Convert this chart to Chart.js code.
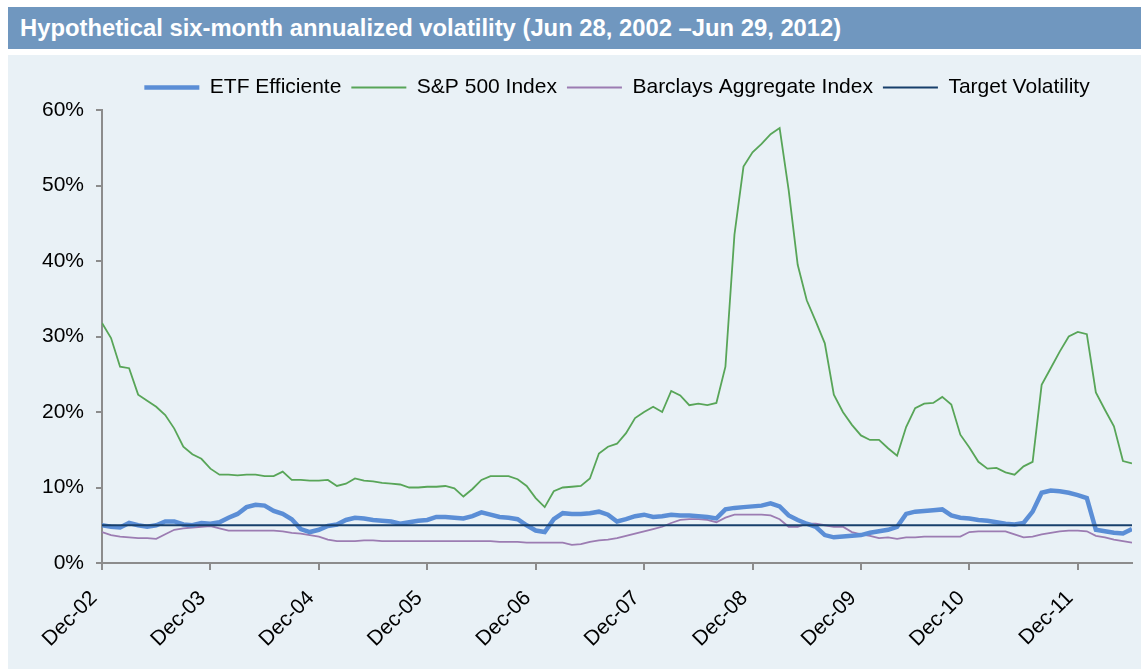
<!DOCTYPE html>
<html>
<head>
<meta charset="utf-8">
<script src="https://cdn.jsdelivr.net/npm/chart.js@4.4.0/dist/chart.umd.min.js"></script>
<style>
  body { margin: 0; background: #fff; }
  #title {
    position: absolute; left: 8px; top: 7px; width: 1121px; height: 42px;
    padding-left: 12px; background: #7097bf; color: #fff;
    font: bold 23.8px "Liberation Sans", Arial, sans-serif; line-height: 42px;
  }
  #box { position: absolute; left: 8px; top: 55px; width: 1133px; height: 614px; background: #e9f1f6; }
</style>
</head>
<body>
<div id="title">Hypothetical six-month annualized volatility (Jun 28, 2002 –Jun 29, 2012)</div>
<div id="box"><canvas id="chart" width="1133" height="614"></canvas></div>
<script>
// x = months since Dec-02 (monthly, Dec-02 .. Jun-12)
var tickLabels = ['Dec-02','Dec-03','Dec-04','Dec-05','Dec-06','Dec-07','Dec-08','Dec-09','Dec-10','Dec-11'];

var etf = [5.0,4.8,4.7,5.3,5.0,4.8,5.0,5.5,5.5,5.1,5.0,5.3,
  5.2,5.4,6.0,6.5,7.4,7.7,7.6,6.9,6.5,5.8,4.5,4.1,
  4.4,4.9,5.1,5.7,6.0,5.9,5.7,5.6,5.5,5.2,5.4,5.6,
  5.7,6.1,6.1,6.0,5.9,6.2,6.7,6.4,6.1,6.0,5.8,5.0,
  4.3,4.1,5.8,6.6,6.5,6.5,6.6,6.8,6.4,5.5,5.8,6.2,
  6.4,6.1,6.2,6.4,6.3,6.3,6.2,6.1,5.9,7.1,7.3,7.4,
  7.5,7.6,7.9,7.5,6.3,5.7,5.2,4.8,3.7,3.4,3.5,3.6,
  3.7,4.0,4.2,4.4,4.8,6.5,6.8,6.9,7.0,7.1,6.3,6.0,
  5.9,5.7,5.6,5.4,5.2,5.1,5.3,6.8,9.3,9.6,9.5,9.3,
  9.0,8.6,4.4,4.2,4.0,3.9,4.5];

var sp500 = [31.8,29.8,26.0,25.8,22.3,21.5,20.7,19.6,17.8,15.4,14.4,13.8,
  12.5,11.7,11.7,11.6,11.7,11.7,11.5,11.5,12.1,11.0,11.0,10.9,
  10.9,11.0,10.2,10.5,11.2,10.9,10.8,10.6,10.5,10.4,10.0,10.0,
  10.1,10.1,10.2,9.9,8.8,9.8,11.0,11.5,11.5,11.5,11.1,10.2,
  8.6,7.4,9.5,10.0,10.1,10.2,11.2,14.5,15.4,15.8,17.2,19.2,
  20.0,20.7,20.0,22.8,22.2,20.9,21.1,20.9,21.2,26.0,43.5,52.5,
  54.4,55.5,56.8,57.6,49.4,39.5,34.8,32.0,29.1,22.3,20.0,18.3,
  16.9,16.3,16.3,15.2,14.2,18.0,20.5,21.1,21.2,22.0,21.0,17.0,
  15.3,13.4,12.5,12.6,12.0,11.7,12.8,13.4,23.6,25.8,28.0,30.0,
  30.6,30.3,22.6,20.3,18.1,13.5,13.2];

var barclays = [4.1,3.7,3.5,3.4,3.3,3.3,3.2,3.8,4.4,4.6,4.7,4.8,
  4.9,4.6,4.3,4.3,4.3,4.3,4.3,4.3,4.2,4.0,3.9,3.7,
  3.5,3.1,2.9,2.9,2.9,3.0,3.0,2.9,2.9,2.9,2.9,2.9,
  2.9,2.9,2.9,2.9,2.9,2.9,2.9,2.9,2.8,2.8,2.8,2.7,
  2.7,2.7,2.7,2.7,2.4,2.5,2.8,3.0,3.1,3.3,3.6,3.9,
  4.2,4.5,4.8,5.3,5.7,5.8,5.8,5.7,5.4,6.0,6.4,6.4,
  6.4,6.4,6.3,5.8,4.8,4.8,5.2,5.2,5.0,4.8,4.8,4.1,
  3.8,3.6,3.3,3.4,3.2,3.4,3.4,3.5,3.5,3.5,3.5,3.5,
  4.1,4.2,4.2,4.2,4.2,3.8,3.4,3.5,3.8,4.0,4.2,4.3,
  4.3,4.2,3.6,3.4,3.1,2.9,2.7];

var targetVol = 5.0;

function pts(arr) {
  return arr.map(function (v, i) { return { x: i, y: v }; });
}

// Excel centres the legend over the plot area, not the whole chart
var legendOverPlot = {
  id: 'legendOverPlot',
  afterLayout: function (chart) {
    var lg = chart.legend, ca = chart.chartArea;
    var dx = (ca.left + ca.right) / 2 - (lg.left + lg.right) / 2;
    lg.left += dx; lg.right += dx;
    lg.top -= 2; lg.bottom -= 2;
  }
};

Chart.defaults.font.family = '"Liberation Sans", Arial, sans-serif';
Chart.defaults.color = '#000';

new Chart(document.getElementById('chart'), {
  type: 'line',
  data: {
    datasets: [
      { label: 'ETF Efficiente', data: pts(etf), borderColor: '#5b8ed6', borderWidth: 4.5, order: 1 },
      { label: 'S&P 500 Index', data: pts(sp500), borderColor: '#58a558', borderWidth: 1.8, order: 2 },
      { label: 'Barclays Aggregate Index', data: pts(barclays), borderColor: '#9c7cb2', borderWidth: 1.8, order: 3 },
      { label: 'Target Volatility', data: etf.map(function (v, i) { return { x: i, y: targetVol }; }),
        borderColor: '#173f6b', borderWidth: 2, order: 0 }
    ]
  },
  plugins: [legendOverPlot],
  options: {
    responsive: false,
    devicePixelRatio: 1,
    animation: false,
    elements: { point: { radius: 0 }, line: { tension: 0 } },
    layout: { padding: { left: 0, right: 9, top: 14, bottom: 0 } },
    plugins: {
      tooltip: { enabled: false },
      legend: {
        position: 'top',
        labels: {
          usePointStyle: true,
          pointStyle: 'line',
          pointStyleWidth: 55,
          padding: 10,
          font: { size: 21 },
          color: '#000',
          sort: function (a, b) { return a.datasetIndex - b.datasetIndex; }
        }
      }
    },
    scales: {
      x: {
        type: 'linear',
        min: 0,
        max: etf.length - 1,
        afterBuildTicks: function (axis) {
          axis.ticks = tickLabels.map(function (t, i) { return { value: i * 12 }; });
        },
        afterFit: function (scale) { scale.height = 106; },
        ticks: {
          autoSkip: false,
          maxRotation: 45,
          minRotation: 45,
          padding: 16,
          labelOffset: -8,
          font: { size: 21 },
          callback: function (v) { return tickLabels[Math.round(v / 12)]; }
        },
        grid: { drawOnChartArea: false, tickLength: 7, color: '#8c8c8c', lineWidth: 2 },
        border: { color: '#8c8c8c', width: 2 }
      },
      y: {
        min: 0,
        max: 60,
        afterFit: function (scale) { scale.width = 94; },
        ticks: {
          stepSize: 10,
          padding: 12,
          font: { size: 21 },
          callback: function (v) { return v + '%'; }
        },
        grid: { drawOnChartArea: false, tickLength: 6, color: '#8c8c8c', lineWidth: 2 },
        border: { color: '#8c8c8c', width: 2 }
      }
    }
  }
});
</script>
</body>
</html>
